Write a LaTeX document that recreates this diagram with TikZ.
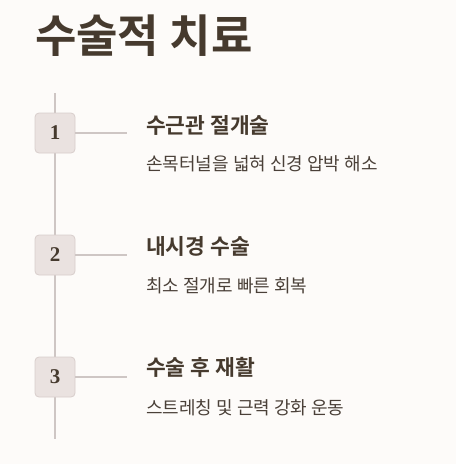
\documentclass[tikz,border=0pt]{standalone}
\usepackage{fontspec}
\newfontfamily\kr{Noto Sans CJK KR}
\newfontfamily\krb{Noto Sans CJK KR Bold}
\newfontfamily\numf{Liberation Serif}
\definecolor{bg}{HTML}{FDFBF9}
\definecolor{ink}{HTML}{463A2E}
\definecolor{sub}{HTML}{4A4038}
\definecolor{linec}{HTML}{CEC6C4}
\definecolor{boxf}{HTML}{EAE2E0}
\definecolor{boxd}{HTML}{D8CECC}
\tikzset{
  numbox/.style={draw=boxd, fill=boxf, rounded corners=4pt, minimum width=40pt, minimum height=40pt, line width=0.8pt, inner sep=0pt, font=\numf\bfseries\fontsize{21}{21}\selectfont, text=ink},
  head/.style={anchor=west, inner sep=0pt, font=\krb\fontsize{21.5}{21.5}\selectfont, text=ink},
  desc/.style={anchor=west, inner sep=0pt, font=\kr\fontsize{18}{18}\selectfont, text=sub},
  conn/.style={draw=linec, line width=1.5pt}
}
\begin{document}
\begin{tikzpicture}[x=1pt,y=-1pt]
\fill[bg] (0,0) rectangle (456,464);
\useasboundingbox (0,0) rectangle (456,464);
\node[anchor=west, inner sep=0pt, font=\krb\fontsize{45}{45}\selectfont, text=ink] (title) at (35,36) {수술적 치료};
\coordinate (top) at (55,93);
\coordinate (bot) at (55,439);
\draw[conn] (top) -- (bot);
\node[numbox] (n1) at (55,133) {1};
\node[numbox] (n2) at (55,255) {2};
\node[numbox] (n3) at (55,377) {3};
\coordinate (e1) at (127,133);
\coordinate (e2) at (127,255);
\coordinate (e3) at (127,377);
\draw[conn] (n1.east) -- (e1);
\draw[conn] (n2.east) -- (e2);
\draw[conn] (n3.east) -- (e3);
\node[head] (h1) at (146,125) {수근관 절개술};
\node[desc] (d1) at (146,164) {손목터널을 넓혀 신경 압박 해소};
\node[head] (h2) at (146,246) {내시경 수술};
\node[desc] (d2) at (146,286) {최소 절개로 빠른 회복};
\node[head] (h3) at (146,367) {수술 후 재활};
\node[desc] (d3) at (146,408) {스트레칭 및 근력 강화 운동};
\end{tikzpicture}
\end{document}
